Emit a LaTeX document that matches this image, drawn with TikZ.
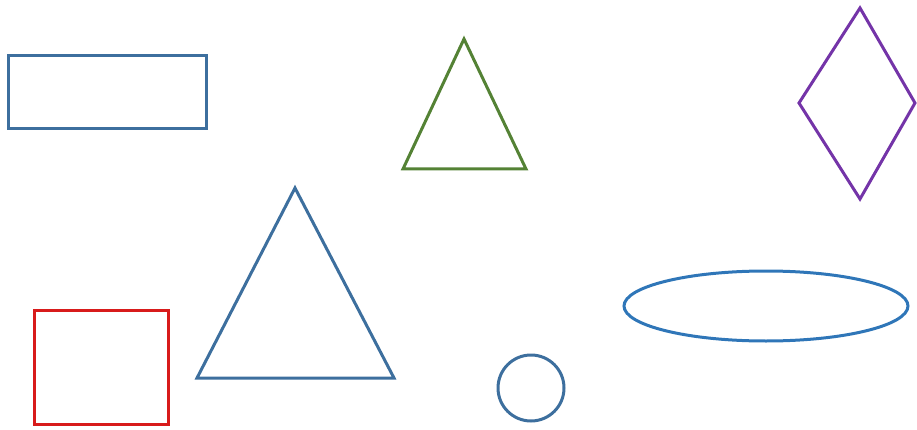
\documentclass[tikz,border=0pt]{standalone}
\usepackage{tikz}
\definecolor{shapeblue}{HTML}{3D6F9E}
\definecolor{shapegreen}{HTML}{548235}
\definecolor{shapepurple}{HTML}{7434A8}
\definecolor{shapered}{HTML}{D81B1B}
\definecolor{shapesky}{HTML}{2F76B8}
\tikzset{outline/.style={line width=3pt, line join=miter},
  canvas/.style={x=1pt, y=-1pt}}

\begin{document}
\begin{tikzpicture}[canvas]
    \useasboundingbox (0,0) rectangle (917,430);
    \draw[outline, shapeblue] (8,56) rectangle (206,129);
    \draw[outline, shapegreen] (464,39) -- (526,169) -- (403,169) -- cycle;
    \draw[outline, shapepurple] (860,8) -- (915,103) -- (860,199) -- (799,103) -- cycle;
    \draw[outline, shapered] (34,310) rectangle (168,424);
    \draw[outline, shapeblue] (295,188) -- (394,378) -- (197,378) -- cycle;
    \draw[outline, shapeblue] (531,388) circle (33);
    \draw[outline, shapesky] (766,306) ellipse (142 and 35);
  \end{tikzpicture}
\end{document}
